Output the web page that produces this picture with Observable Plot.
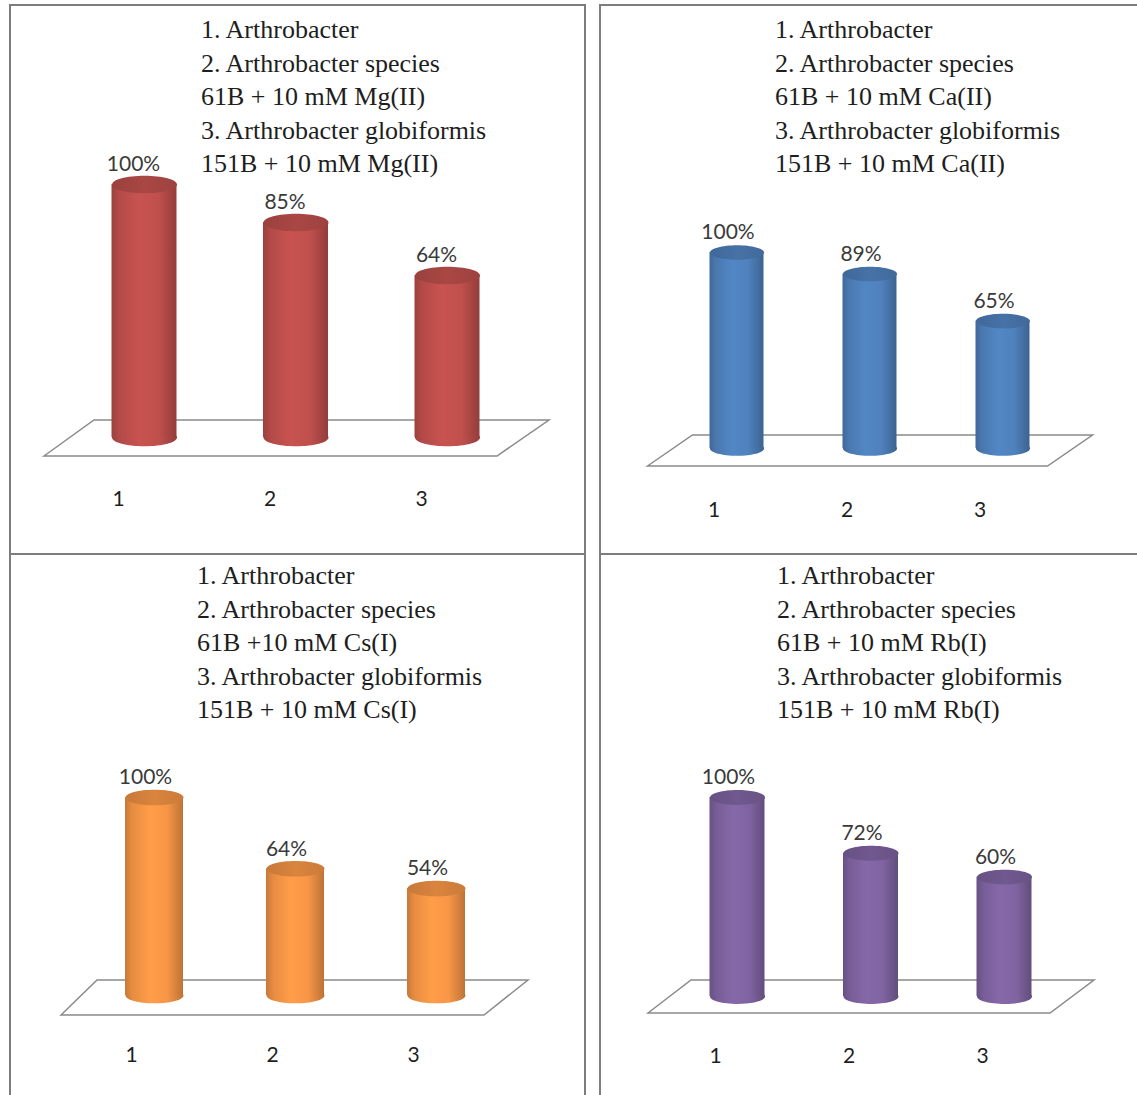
<!DOCTYPE html>
<html><head><meta charset="utf-8">
<script src="https://cdn.jsdelivr.net/npm/d3@7"></script>
<script src="https://cdn.jsdelivr.net/npm/@observablehq/plot@0.6"></script>
<style>
html,body{margin:0;padding:0;background:#fff;overflow:hidden}
#root{position:relative;width:1137px;height:1095px;overflow:hidden;background:#fff}
.panel{position:absolute;border:2px solid #7d7d7d;box-sizing:border-box}
.legend{position:absolute;font-family:"Liberation Serif",serif;font-size:26px;line-height:33.5px;color:#1e1e1e;white-space:nowrap}
.plotwrap{position:absolute}
.plotwrap svg{display:block;overflow:visible;max-width:none !important}
</style></head><body><div id="root"></div>
<script>
// ---- data ----
const categories = ["1", "2", "3"];
const mgValues = [100, 85, 64];
const caValues = [100, 89, 65];
const csValues = [100, 64, 54];
const rbValues = [100, 72, 60];
const mgLegend = ["1. Arthrobacter", "2. Arthrobacter species", "61B + 10 mM Mg(II)", "3. Arthrobacter globiformis", "151B + 10 mM Mg(II)"];
const caLegend = ["1. Arthrobacter", "2. Arthrobacter species", "61B + 10 mM Ca(II)", "3. Arthrobacter globiformis", "151B + 10 mM Ca(II)"];
const csLegend = ["1. Arthrobacter", "2. Arthrobacter species", "61B +10 mM Cs(I)", "3. Arthrobacter globiformis", "151B + 10 mM Cs(I)"];
const rbLegend = ["1. Arthrobacter", "2. Arthrobacter species", "61B + 10 mM Rb(I)", "3. Arthrobacter globiformis", "151B + 10 mM Rb(I)"];
const seriesColors = ["#C0504D", "#4F81BD", "#F79646", "#8064A2"];

// ---- layout (pixel geometry of each panel) ----
const layouts = [
  {box:[9,4,577,551],   legend:[201,30],  c1:144,   step:151.5, bw:65, y0:437, y100:184, tickY:498,  tickDx:-26, labelDx:-11, floor:{tl:-50,bl:-100,tr:102,br:50,front:19,back:-17}},
  {box:[599,4,560,551], legend:[775,30],  c1:736.5, step:133,   bw:54, y0:448, y100:252, tickY:509,  tickDx:-23, labelDx:-9,  floor:{tl:-44,bl:-89,tr:90,br:45,front:18,back:-13}},
  {box:[9,553,577,560], legend:[197,576], c1:154,   step:141,   bw:58, y0:995, y100:797, tickY:1054, tickDx:-23, labelDx:-9,  floor:{tl:-57,bl:-93,tr:92,br:48,front:20,back:-15}},
  {box:[599,553,560,560],legend:[777,576],c1:737,   step:133.5, bw:55, y0:996, y100:797, tickY:1055, tickDx:-22, labelDx:-9,  floor:{tl:-46,bl:-89,tr:90,br:46,front:17,back:-16}}
];

const svgNS = "http://www.w3.org/2000/svg";
const root = document.getElementById("root");

function ellipseSymbol(rx, ry) {
  const k = 0.5522847498;
  return {draw(ctx) {
    ctx.moveTo(rx, 0);
    ctx.bezierCurveTo(rx, ry * k, rx * k, ry, 0, ry);
    ctx.bezierCurveTo(-rx * k, ry, -rx, ry * k, -rx, 0);
    ctx.bezierCurveTo(-rx, -ry * k, -rx * k, -ry, 0, -ry);
    ctx.bezierCurveTo(rx * k, -ry, rx, -ry * k, rx, 0);
    ctx.closePath();
  }};
}

function drawPanel(p, values, legend, color, id) {
  const data = categories.map((c, i) => ({cat: c, v: values[i]}));
  const [L, T, W, H] = p.box;

  const border = document.createElement("div");
  border.className = "panel";
  Object.assign(border.style, {left: L + "px", top: T + "px", width: W + "px", height: H + "px"});

  const leg = document.createElement("div");
  leg.className = "legend";
  leg.style.left = p.legend[0] + "px";
  leg.style.top = (p.legend[1] - 16.75) + "px";
  leg.innerHTML = legend.map(s => `<div>${s}</div>`).join("");

  const pad = 1 - p.bw / p.step;
  const r0 = p.c1 - L - p.step * (1 + pad) / 2;
  const r1 = r0 + p.step * (3 + pad);
  const fs = 21;
  const frameBottom = p.tickY - T - 0.36 * fs;
  const ry = p.bw * 0.135;
  const f = p.floor;

  const floorMark = (index, scales) => {
    const x = scales.x, y = scales.y;
    const bw = x.bandwidth ? x.bandwidth() : 0;
    const cA = x(categories[0]) + bw / 2;
    const cB = x(categories[categories.length - 1]) + bw / 2;
    const base = y(0);
    const path = d3.path();
    path.moveTo(cA + f.bl, base + f.front);
    path.lineTo(cA + f.tl, base + f.back);
    path.lineTo(cB + f.tr, base + f.back);
    path.lineTo(cB + f.br, base + f.front);
    path.closePath();
    const el = document.createElementNS(svgNS, "path");
    el.setAttribute("d", path.toString());
    el.setAttribute("fill", "#ffffff");
    el.setAttribute("stroke", "#8a8a8a");
    el.setAttribute("stroke-width", "1.5");
    return el;
  };

  const svg = Plot.plot({
    width: W, height: H,
    marginTop: 0, marginLeft: 0, marginRight: 0,
    marginBottom: H - frameBottom,
    style: {background: "transparent", color: "#1f1f1f", overflow: "visible", maxWidth: "none"},
    x: {type: "band", domain: categories, range: [r0, r1], paddingInner: pad, paddingOuter: pad, align: 0.5, round: false, axis: null, label: null},
    y: {type: "linear", domain: [0, 100], range: [p.y0 - T, p.y100 - T], axis: null, label: null},
    marks: [
      floorMark,
      Plot.dot(data, {x: "cat", y: () => 0, r: 10, symbol: ellipseSymbol(p.bw / 2, ry), fill: `url(#body-${id})`, stroke: "none"}),
      Plot.barY(data, {x: "cat", y: "v", fill: `url(#body-${id})`}),
      Plot.dot(data, {x: "cat", y: "v", r: 10, symbol: ellipseSymbol(p.bw / 2, ry), fill: `url(#top-${id})`, stroke: "none"}),
      Plot.text(data, {x: "cat", y: "v", text: d => d.v + "%", dx: p.labelDx, dy: -20, fontSize: fs, fontFamily: "Lato, 'Open Sans', sans-serif", fill: "#3a3a3a"}),
      Plot.axisX({tickSize: 0, tickPadding: 0, dx: p.tickDx, fontSize: fs, fontFamily: "Lato, 'Open Sans', sans-serif", label: null, color: "#1f1f1f"})
    ]
  });

  const c = d3.color(color);
  const defs = document.createElementNS(svgNS, "defs");
  defs.innerHTML = `
    <linearGradient id="body-${id}" x1="0" x2="1" y1="0" y2="0">
      <stop offset="0" stop-color="${c.darker(0.6).formatHex()}"/>
      <stop offset="0.12" stop-color="${c.darker(0.2).formatHex()}"/>
      <stop offset="0.42" stop-color="${c.brighter(0.12).formatHex()}"/>
      <stop offset="0.72" stop-color="${c.formatHex()}"/>
      <stop offset="1" stop-color="${c.darker(0.75).formatHex()}"/>
    </linearGradient>
    <linearGradient id="top-${id}" x1="0" x2="1" y1="0" y2="0">
      <stop offset="0" stop-color="${c.darker(0.6).formatHex()}"/>
      <stop offset="0.5" stop-color="${c.darker(0.35).formatHex()}"/>
      <stop offset="1" stop-color="${c.darker(0.55).formatHex()}"/>
    </linearGradient>`;
  svg.insertBefore(defs, svg.firstChild);
  svg.style.maxWidth = "none";

  const wrap = document.createElement("div");
  wrap.className = "plotwrap";
  wrap.style.left = L + "px";
  wrap.style.top = T + "px";
  wrap.style.width = W + "px";
  wrap.style.height = H + "px";
  wrap.appendChild(svg);

  root.appendChild(wrap);
  root.appendChild(border);
  root.appendChild(leg);
}

drawPanel(layouts[0], mgValues, mgLegend, seriesColors[0], "mg");
drawPanel(layouts[1], caValues, caLegend, seriesColors[1], "ca");
drawPanel(layouts[2], csValues, csLegend, seriesColors[2], "cs");
drawPanel(layouts[3], rbValues, rbLegend, seriesColors[3], "rb");
</script></body></html>
